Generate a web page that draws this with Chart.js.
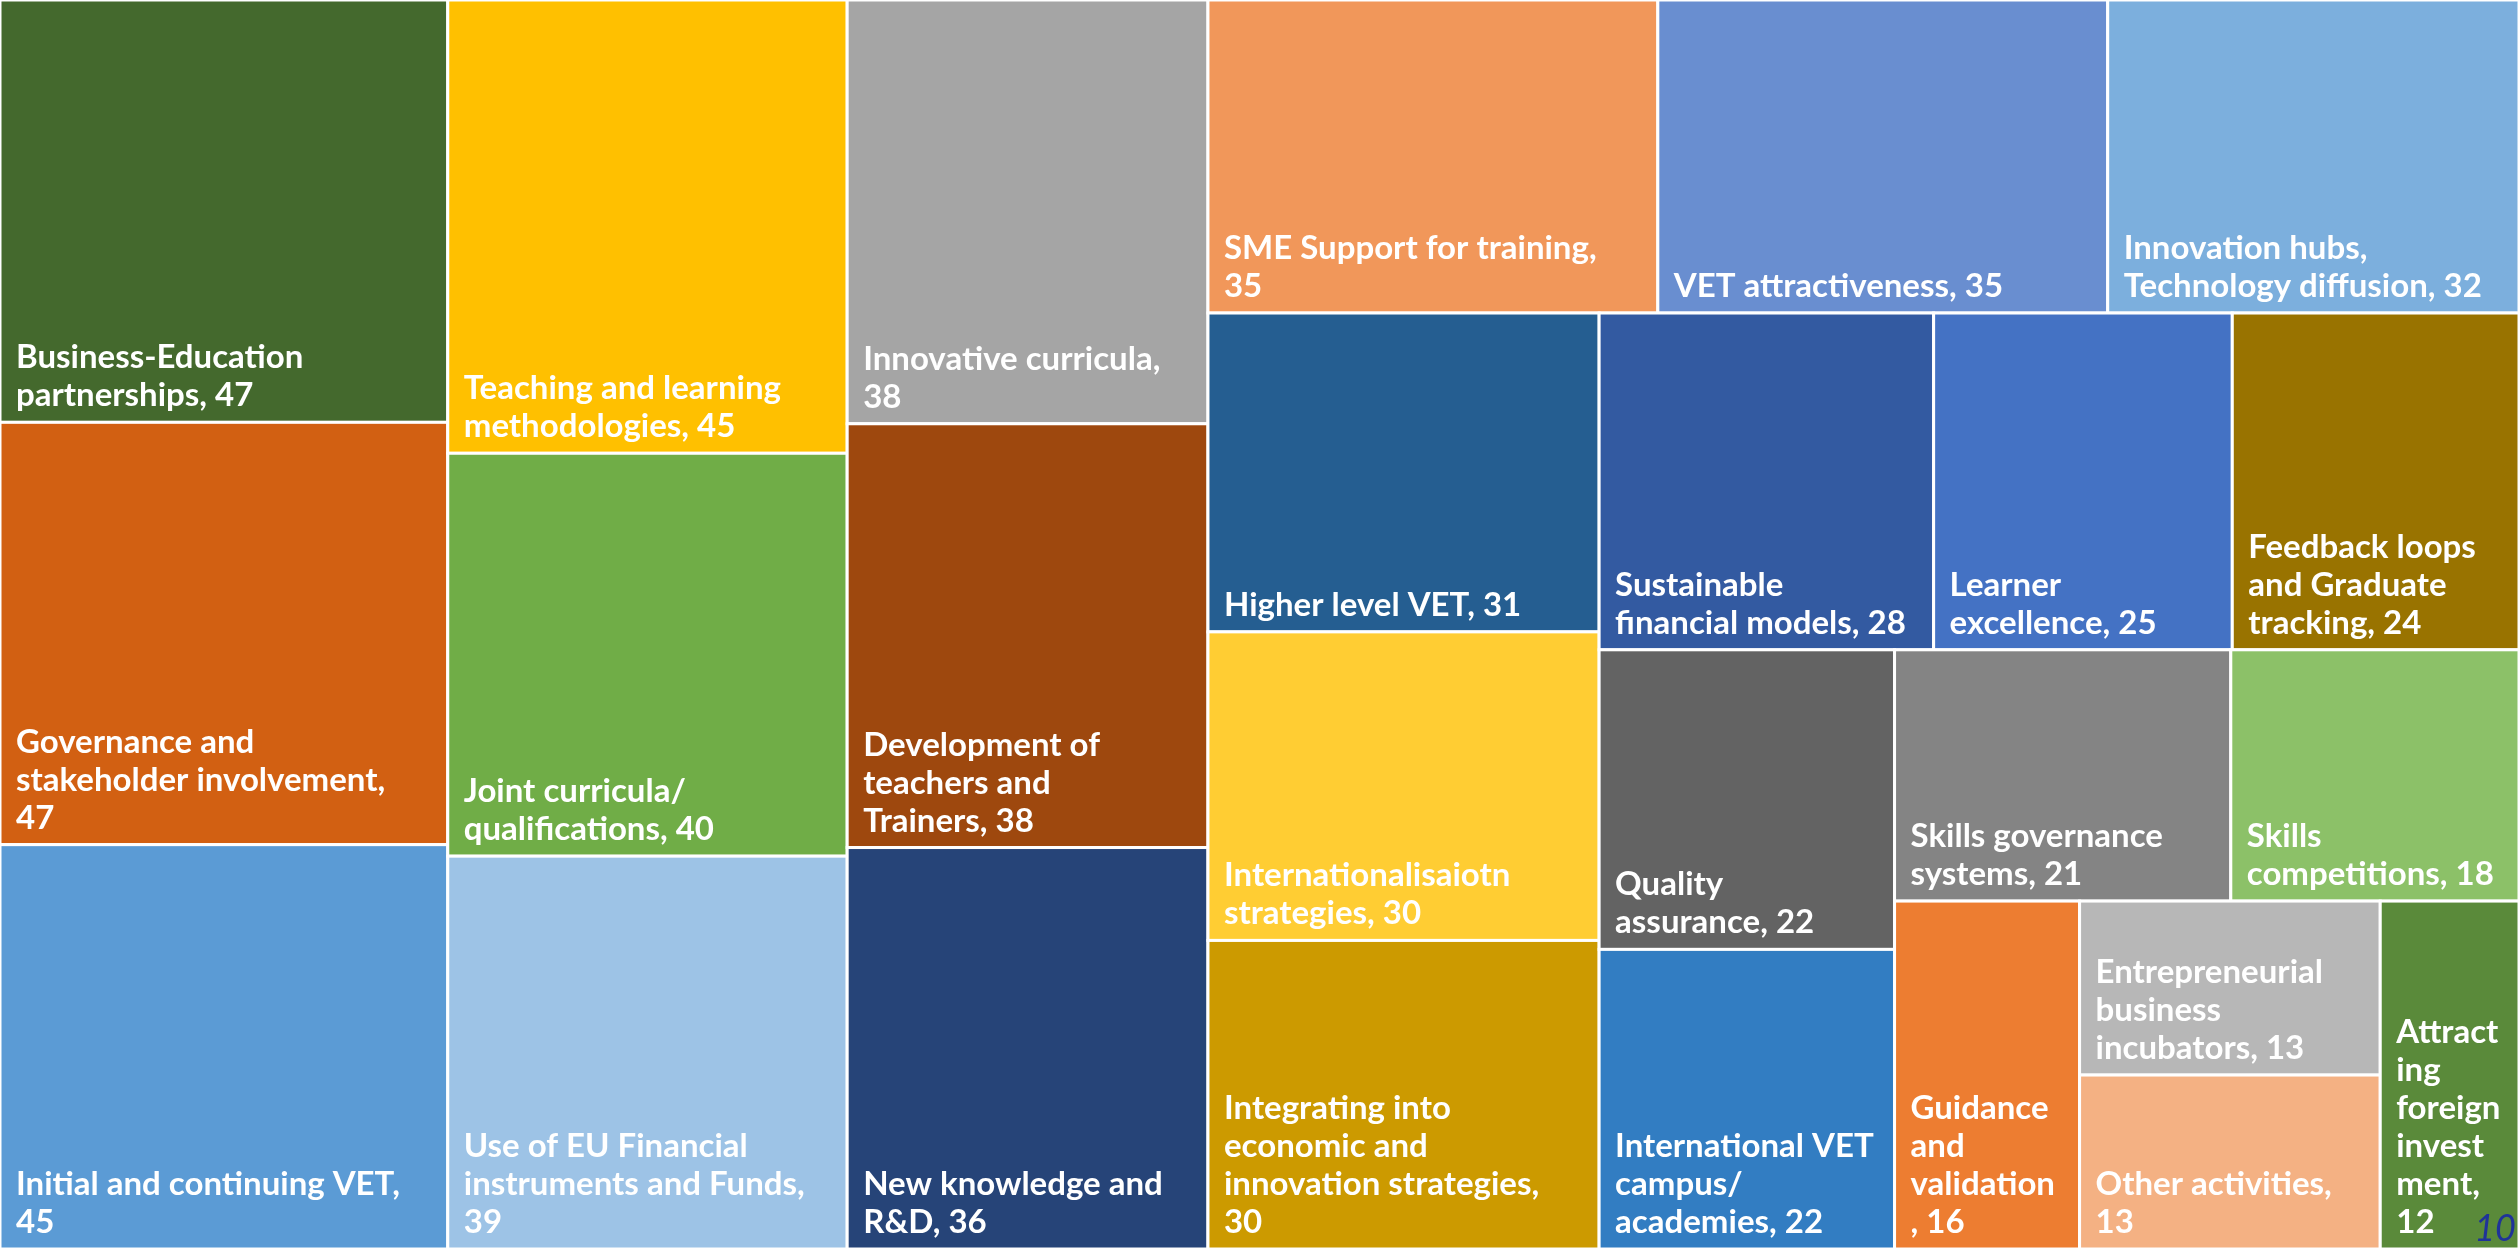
<!DOCTYPE html>
<html>
<head>
<meta charset="utf-8">
<script src="https://cdn.jsdelivr.net/npm/chart.js@4.4.1/dist/chart.umd.min.js"></script>
<style>
  html, body { margin: 0; padding: 0; background: #ffffff; overflow: hidden; }
  #wrap { position: relative; width: 2519px; height: 1249px; }
</style>
</head>
<body>
<div id="wrap"><canvas id="c"></canvas></div>
<script>
// ---- data ----
const categories = [
  "Business-Education partnerships",
  "Governance and stakeholder involvement",
  "Initial and continuing VET",
  "Teaching and learning methodologies",
  "Joint curricula/ qualifications",
  "Use of EU Financial instruments and Funds",
  "Innovative curricula",
  "Development of teachers and Trainers",
  "New knowledge and R&D",
  "SME Support for training",
  "VET attractiveness",
  "Innovation hubs, Technology diffusion",
  "Higher level VET",
  "Internationalisaiotn strategies",
  "Integrating into economic and innovation strategies",
  "Sustainable financial models",
  "Learner excellence",
  "Feedback loops and Graduate tracking",
  "Quality assurance",
  "International VET campus/ academies",
  "Skills governance systems",
  "Skills competitions",
  "Guidance and validation",
  "Entrepreneurial business incubators",
  "Other activities",
  "Attracting foreign investment"
];
const values = [47, 47, 45, 45, 40, 39, 38, 38, 36, 35, 35, 32, 31, 30, 30, 28, 25, 24, 22, 22, 21, 18, 16, 13, 13, 12];
// label lines as wrapped in the reference ({v} = value)
const labelLines = [
  ["Business-Education", "partnerships, {v}"],
  ["Governance and", "stakeholder involvement,", "{v}"],
  ["Initial and continuing VET,", "{v}"],
  ["Teaching and learning", "methodologies, {v}"],
  ["Joint curricula/", "qualifications, {v}"],
  ["Use of EU Financial", "instruments and Funds,", "{v}"],
  ["Innovative curricula,", "{v}"],
  ["Development of", "teachers and", "Trainers, {v}"],
  ["New knowledge and", "R&D, {v}"],
  ["SME Support for training,", "{v}"],
  ["VET attractiveness, {v}"],
  ["Innovation hubs,", "Technology diffusion, {v}"],
  ["Higher level VET, {v}"],
  ["Internationalisaiotn", "strategies, {v}"],
  ["Integrating into", "economic and", "innovation strategies,", "{v}"],
  ["Sustainable", "financial models, {v}"],
  ["Learner", "excellence, {v}"],
  ["Feedback loops", "and Graduate", "tracking, {v}"],
  ["Quality", "assurance, {v}"],
  ["International VET", "campus/", "academies, {v}"],
  ["Skills governance", "systems, {v}"],
  ["Skills", "competitions, {v}"],
  ["Guidance", "and", "validation", ", {v}"],
  ["Entrepreneurial", "business", "incubators, {v}"],
  ["Other activities,", "{v}"],
  ["Attract", "ing", "foreign", "invest", "ment,", "{v}"]
];
const pageNumber = "10";

// ---- styles ----
const colors = [
  "#44692D", "#D26012", "#5B9BD5", "#FFC000", "#70AD47", "#9DC3E6",
  "#A5A5A5", "#9E480E", "#264478", "#F1975A", "#698ED0", "#7CAFDD",
  "#255E91", "#FFCD33", "#CC9A00", "#335AA1", "#4472C4", "#997300",
  "#636363", "#327DC2", "#848484", "#8CC168", "#ED7D31", "#B7B7B7",
  "#F4B183", "#5A8A3A"
];
// treemap strip structure: [item count, 'col' (left strip) | 'row' (top strip)]
const strips = [[3,'col'],[3,'col'],[3,'col'],[3,'row'],[3,'col'],[3,'row'],[2,'col'],[2,'row'],[1,'col'],[2,'col'],[1,'col']];

// ---- layout in data units (x: 0..1, y: 0..1) ----
function layoutTreemap(vals) {
  const rects = [];
  let x0 = 0, y0 = 0, x1 = 1, y1 = 1;
  let remaining = vals.reduce((a, b) => a + b, 0);
  let idx = 0;
  for (const [n, dir] of strips) {
    const group = vals.slice(idx, idx + n);
    const gsum = group.reduce((a, b) => a + b, 0);
    if (dir === 'col') {
      const w = (x1 - x0) * gsum / remaining;
      let yy = y0;
      group.forEach((v, k) => {
        const h = (y1 - y0) * v / gsum;
        rects.push({ i: idx + k, x0: x0, x1: x0 + w, y0: yy, y1: yy + h });
        yy += h;
      });
      x0 += w;
    } else {
      const h = (y1 - y0) * gsum / remaining;
      let xx = x0;
      group.forEach((v, k) => {
        const w = (x1 - x0) * v / gsum;
        rects.push({ i: idx + k, x0: xx, x1: xx + w, y0: y0, y1: y0 + h });
        xx += w;
      });
      y0 += h;
    }
    remaining -= gsum;
    idx += n;
  }
  return rects;
}
const cells = layoutTreemap(values);

const FONT = "bold 33px Lato, 'Open Sans', sans-serif";
const LINE_H = 38;

const treemapPlugin = {
  id: 'treemapCells',
  afterDatasetsDraw(chart) {
    const ctx = chart.ctx;
    const xs = chart.scales.x, ys = chart.scales.y;
    ctx.save();
    cells.forEach(c => {
      const px0 = xs.getPixelForValue(c.x0), px1 = xs.getPixelForValue(c.x1);
      const py0 = ys.getPixelForValue(c.y0), py1 = ys.getPixelForValue(c.y1);
      const l = Math.min(px0, px1), r = Math.max(px0, px1);
      const t = Math.min(py0, py1), b = Math.max(py0, py1);
      ctx.fillStyle = colors[c.i];
      ctx.fillRect(l, t, r - l, b - t);
      ctx.strokeStyle = '#FFFFFF';
      ctx.lineWidth = 3;
      ctx.strokeRect(l, t, r - l, b - t);
      // label
      ctx.save();
      ctx.beginPath();
      ctx.rect(l + 2, t + 2, r - l - 4, b - t - 4);
      ctx.clip();
      ctx.fillStyle = '#FFFFFF';
      ctx.font = FONT;
      ctx.textAlign = 'left';
      ctx.textBaseline = 'alphabetic';
      const lines = labelLines[c.i].map(s => s.replace('{v}', String(values[c.i])));
      const lastBase = b - 16;
      lines.forEach((s, k) => {
        const yb = lastBase - (lines.length - 1 - k) * LINE_H;
        ctx.fillText(s, l + 16, yb);
      });
      ctx.restore();
    });
    // slide page number
    ctx.fillStyle = '#1F3399';
    ctx.font = "italic 36px Lato, 'Open Sans', sans-serif";
    ctx.textAlign = 'right';
    ctx.textBaseline = 'alphabetic';
    ctx.fillText(pageNumber, chart.width - 3, chart.height - 8);
    ctx.restore();
  }
};

new Chart(document.getElementById('c'), {
  type: 'scatter',
  data: {
    datasets: [{
      label: 'Activities',
      data: cells.map(c => ({ x: (c.x0 + c.x1) / 2, y: (c.y0 + c.y1) / 2, v: values[c.i], name: categories[c.i] })),
      pointRadius: 0,
      pointHoverRadius: 0
    }]
  },
  options: {
    responsive: true,
    maintainAspectRatio: false,
    animation: false,
    layout: { padding: 0 },
    plugins: {
      legend: { display: false },
      tooltip: { enabled: false }
    },
    scales: {
      x: { type: 'linear', min: 0, max: 1, display: false },
      y: { type: 'linear', min: 0, max: 1, reverse: true, display: false }
    }
  },
  plugins: [treemapPlugin]
});
</script>
</body>
</html>
